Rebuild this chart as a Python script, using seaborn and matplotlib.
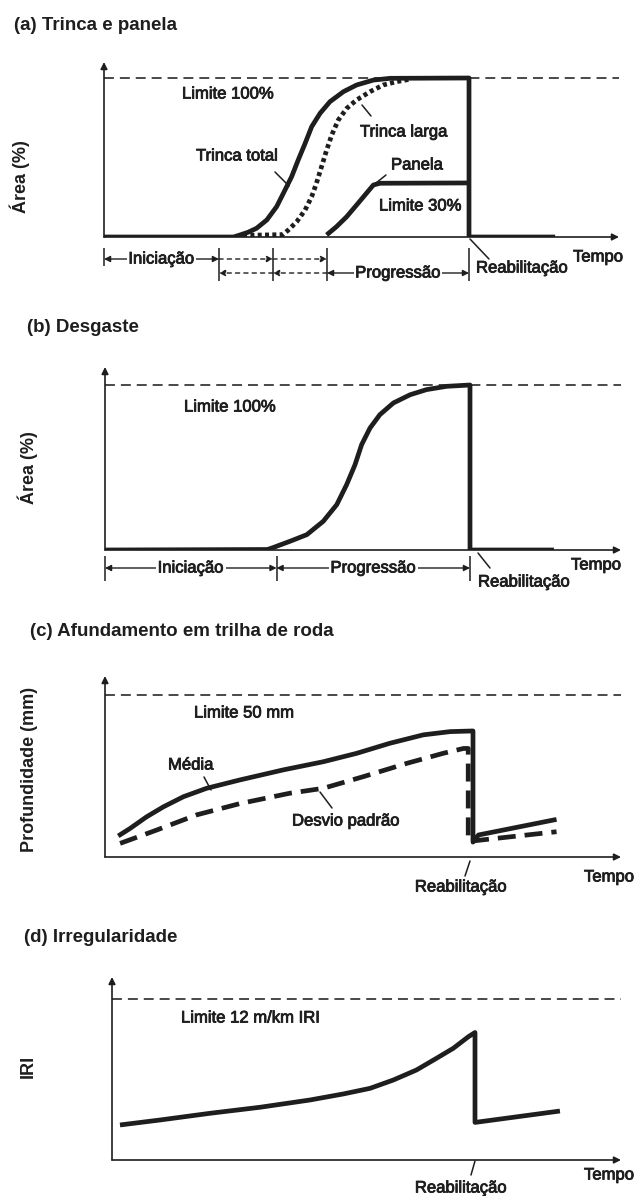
import matplotlib
matplotlib.use('Agg')
import matplotlib.pyplot as plt
import matplotlib.patheffects as pe
import seaborn as sns
from matplotlib.lines import Line2D

sns.set_theme(style='white')
plt.rcParams['font.family'] = ['Liberation Sans', 'DejaVu Sans']

W, H = 636, 1196
INK = '#1e1e1e'
GREY = '#3a3a3a'

# ---------------- data (time in arbitrary units, rehabilitation at t = 10) ----------------
# (a) Trinca e panela  -- area (%)
a_total_t = [0, 3.55, 3.73, 3.95, 4.18, 4.46, 4.73, 4.96, 5.14, 5.32, 5.51, 5.69, 5.92,
             6.19, 6.56, 6.92, 7.38, 7.84, 10, 10, 12.36]
a_total_v = [0, 0, 1.3, 3.0, 5.5, 10.7, 19.1, 29.6, 37.9, 48.4, 58.9, 69.4, 77.8,
             85.1, 91.4, 95.6, 98.7, 99.8, 100, 0, 0]
a_larga_t = [3.81, 4.9, 5.05, 5.28, 5.51, 5.69, 5.82, 5.96, 6.10, 6.24, 6.42, 6.65, 6.92,
             7.29, 7.65, 8.02, 8.38]
a_larga_v = [1.0, 1.5, 4.4, 9.6, 17.0, 25.4, 33.8, 44.2, 54.7, 64.2, 73.6, 80.9, 86.2,
             91.4, 95.6, 97.7, 99.2]
a_panela_t = [6.10, 6.37, 6.65, 6.92, 7.19, 7.38, 7.56, 10]
a_panela_v = [1.3, 6.5, 12.8, 20.1, 27.5, 32.7, 33.8, 34]
a_limit = 100
a_phases = [0, 3.15, 4.63, 6.11, 10]

# (b) Desgaste -- area (%)
b_t = [0, 4.45, 4.61, 5.07, 5.53, 5.98, 6.35, 6.62, 6.85, 7.03, 7.26, 7.53, 7.90, 8.36,
       8.81, 9.36, 10, 10, 12.3]
b_v = [0, 0.3, 1.5, 5.3, 9.3, 17.4, 27.5, 39.6, 51.7, 63.8, 73.9, 82.0, 89.1, 94.1,
       97.2, 99.2, 100, 0, 0]
b_limit = 100
b_phases = [0, 4.7, 10]

# (c) Afundamento em trilha de roda -- profundidade (mm)
c_media_t = [0.36, 0.68, 1.13, 1.59, 2.13, 2.76, 3.67, 4.85, 5.93, 6.84, 7.74, 8.65, 9.38,
             10, 10, 10.15, 12.27]
c_media_v = [6.5, 8.8, 12.4, 15.5, 18.6, 21.2, 23.8, 26.9, 29.4, 32.0, 35.1, 37.7, 38.7,
             38.9, 4.6, 6.8, 11.6]
c_desvio_t = [0.41, 1.40, 2.49, 3.67, 5.03, 5.93, 7.02, 8.20, 9.19, 9.74, 9.87, 9.87, 12.27]
c_desvio_v = [4.2, 8.3, 13.0, 16.5, 19.7, 21.2, 24.8, 28.9, 32.0, 33.5, 33.5, 4.8, 7.8]
c_limit = 50

# (d) Irregularidade -- IRI (m/km)
d_t = [0.22, 1.32, 2.70, 4.08, 5.45, 6.37, 7.11, 7.75, 8.39, 8.94, 9.40, 9.82, 10, 10, 12.34]
d_v = [2.61, 2.98, 3.48, 3.93, 4.47, 4.92, 5.34, 5.96, 6.71, 7.58, 8.32, 9.19, 9.5, 2.8, 3.65]
d_limit = 12

# ---------------- layout (pixels of the reference) ----------------
panels = {
    'a': dict(x0=104, ybase=237, ytop=62, ppt=36.5, ppv=1.59, xend=619),
    'b': dict(x0=105, ybase=550, ytop=367, ppt=36.5, ppv=1.65, xend=621),
    'c': dict(x0=105, ybase=857, ytop=676, ppt=36.8, ppv=3.24, xend=621),
    'd': dict(x0=112, ybase=1160, ytop=977, ppt=36.3, ppv=13.42, xend=621),
}

fig = plt.figure(figsize=(W / 100, H / 100), dpi=100)
fig.patch.set_facecolor('white')

THICK = [pe.withStroke(linewidth=0.6, foreground=INK)]


def make_ax(cfg):
    ax = fig.add_axes([cfg['x0'] / W, 1 - cfg['ybase'] / H,
                       (W - cfg['x0']) / W, (cfg['ybase'] - cfg['ytop']) / H])
    ax.set_xlim(0, (W - cfg['x0']) / cfg['ppt'])
    ax.set_ylim(0, (cfg['ybase'] - cfg['ytop']) / cfg['ppv'])
    ax.set_axis_off()
    ytop = (cfg['ybase'] - cfg['ytop']) / cfg['ppv']
    xend = (cfg['xend'] - cfg['x0']) / cfg['ppt']
    ap = dict(arrowstyle='-|>', color=INK, lw=1.2, shrinkA=0, shrinkB=0, mutation_scale=10)
    ax.annotate('', xy=(0, ytop), xytext=(0, 0), arrowprops=ap, annotation_clip=False)
    ax.annotate('', xy=(xend, 0), xytext=(0, 0), arrowprops=ap, annotation_clip=False)
    return ax, xend


def py(cfg, ypx):
    return (cfg['ybase'] - ypx) / cfg['ppv']


def ftxt(x, y, s, **kw):
    kw.setdefault('va', 'center')
    kw.setdefault('color', INK)
    fig.text(x / W, 1 - y / H, s, **kw)


def fline(x1, y1, x2, y2, lw=1.1):
    fig.add_artist(Line2D([x1 / W, x2 / W], [1 - y1 / H, 1 - y2 / H],
                          transform=fig.transFigure, color=INK, lw=lw))


def curve(ax, t, v, lw=3.4, ls='-'):
    sns.lineplot(x=t, y=v, sort=False, estimator=None, color=INK, linewidth=lw, ax=ax)
    ln = ax.lines[-1]
    ln.set_linestyle(ls)
    ln.set_solid_capstyle('butt')
    ln.set_dash_capstyle('butt')
    ln.set_solid_joinstyle('round')


def limit(ax, val, xend):
    ax.hlines(val, 0, xend, colors=GREY, lw=1.3, linestyles=(0, (5.5, 3.3)))


def harrow(ax, t1, t2, y, style, ls='-'):
    ax.annotate('', xy=(t2, y), xytext=(t1, y), annotation_clip=False,
                arrowprops=dict(arrowstyle=style, color=INK, lw=1.0, linestyle=ls,
                                shrinkA=0, shrinkB=0, mutation_scale=9))


def phase_label(ax, t, y, s):
    ax.text(t, y, s, ha='center', va='center', fontsize=12, color=INK, path_effects=THICK,
            bbox=dict(fc='white', ec='none', pad=1.2))


TITLE = dict(fontsize=13.5, fontweight='bold', ha='left')
YLAB = dict(fontsize=13, fontweight='bold', rotation=90, ha='center')
LBL = dict(fontsize=12, ha='left', path_effects=THICK)

# ---------------- (a) ----------------
cfg = panels['a']
ax, xend = make_ax(cfg)
limit(ax, a_limit, xend)
curve(ax, a_larga_t, a_larga_v, lw=3.4, ls=(0, (0.85, 0.7)))
curve(ax, a_panela_t, a_panela_v)
curve(ax, a_total_t, a_total_v)
r1, r2 = py(cfg, 259), py(cfg, 273)
ax.vlines(a_phases[0], py(cfg, 248), py(cfg, 266), colors=INK, lw=1.1, clip_on=False)
ax.vlines(a_phases[1:], py(cfg, 248), py(cfg, 281), colors=INK, lw=1.1, clip_on=False)
harrow(ax, a_phases[0], a_phases[1], r1, '<|-|>')
phase_label(ax, (a_phases[0] + a_phases[1]) / 2, r1, 'Iniciação')
harrow(ax, a_phases[1], a_phases[2], r1, '-|>', ls=(0, (3, 3)))
harrow(ax, a_phases[2], a_phases[3], r1, '-|>', ls=(0, (3, 3)))
harrow(ax, a_phases[2], a_phases[1], r2, '-|>', ls=(0, (3, 3)))
harrow(ax, a_phases[3], a_phases[2], r2, '-|>', ls=(0, (3, 3)))
harrow(ax, a_phases[3], a_phases[4], r2, '<|-|>')
phase_label(ax, (a_phases[3] + a_phases[4]) / 2, r2, 'Progressão')
ftxt(14, 25, '(a) Trinca e panela', **TITLE)
ftxt(20, 177, 'Área (%)', **YLAB)
ftxt(182, 94, 'Limite 100%', **LBL)
ftxt(360, 132, 'Trinca larga', **LBL)
ftxt(196, 156, 'Trinca total', **LBL)
ftxt(391, 165, 'Panela', **LBL)
ftxt(379, 206, 'Limite 30%', **LBL)
ftxt(623, 257, 'Tempo', fontsize=12, ha='right', path_effects=THICK)
ftxt(476, 268, 'Reabilitação', **LBL)
fline(275, 172, 289, 186)
fline(362, 105, 371, 116)
fline(376, 183, 386, 175)
fline(470, 239, 489, 259)

# ---------------- (b) ----------------
cfg = panels['b']
ax, xend = make_ax(cfg)
limit(ax, b_limit, xend)
curve(ax, b_t, b_v)
rb = py(cfg, 568)
ax.vlines(b_phases, py(cfg, 556), py(cfg, 581), colors=INK, lw=1.1, clip_on=False)
harrow(ax, b_phases[0], b_phases[1], rb, '<|-|>')
harrow(ax, b_phases[1], b_phases[2], rb, '<|-|>')
phase_label(ax, (b_phases[0] + b_phases[1]) / 2, rb, 'Iniciação')
phase_label(ax, (b_phases[1] + b_phases[2]) / 2, rb, 'Progressão')
ftxt(27, 327, '(b) Desgaste', **TITLE)
ftxt(28, 468, 'Área (%)', **YLAB)
ftxt(184, 407, 'Limite 100%', **LBL)
ftxt(621, 565, 'Tempo', fontsize=12, ha='right', path_effects=THICK)
ftxt(478, 582, 'Reabilitação', **LBL)
fline(478, 553, 490, 568)

# ---------------- (c) ----------------
cfg = panels['c']
ax, xend = make_ax(cfg)
limit(ax, c_limit, xend)
curve(ax, c_desvio_t, c_desvio_v, ls=(0, (3.8, 1.9)))
curve(ax, c_media_t, c_media_v)
ftxt(30, 631, '(c) Afundamento em trilha de roda', **TITLE)
ftxt(30, 769, 'Profundidade (mm)', **YLAB)
ftxt(194, 713, 'Limite 50 mm', **LBL)
ftxt(168, 765, 'Média', **LBL)
ftxt(292, 821, 'Desvio padrão', **LBL)
ftxt(634, 877, 'Tempo', fontsize=12, ha='right', path_effects=THICK)
ftxt(461, 887, 'Reabilitação', fontsize=12, ha='center', path_effects=THICK)
fline(204, 777, 211, 790)
fline(320, 792, 332, 808)
fline(470, 861, 465, 876)

# ---------------- (d) ----------------
cfg = panels['d']
ax, xend = make_ax(cfg)
limit(ax, d_limit, xend)
curve(ax, d_t, d_v)
ftxt(24, 938, '(d) Irregularidade', **TITLE)
ftxt(28, 1066, 'IRI', **YLAB)
ftxt(181, 1018, 'Limite 12 m/km IRI', **LBL)
ftxt(634, 1175, 'Tempo', fontsize=12, ha='right', path_effects=THICK)
ftxt(461, 1188, 'Reabilitação', fontsize=12, ha='center', path_effects=THICK)
fline(475, 1161, 471, 1175)

fig.savefig('out.png', dpi=100, facecolor='white')
